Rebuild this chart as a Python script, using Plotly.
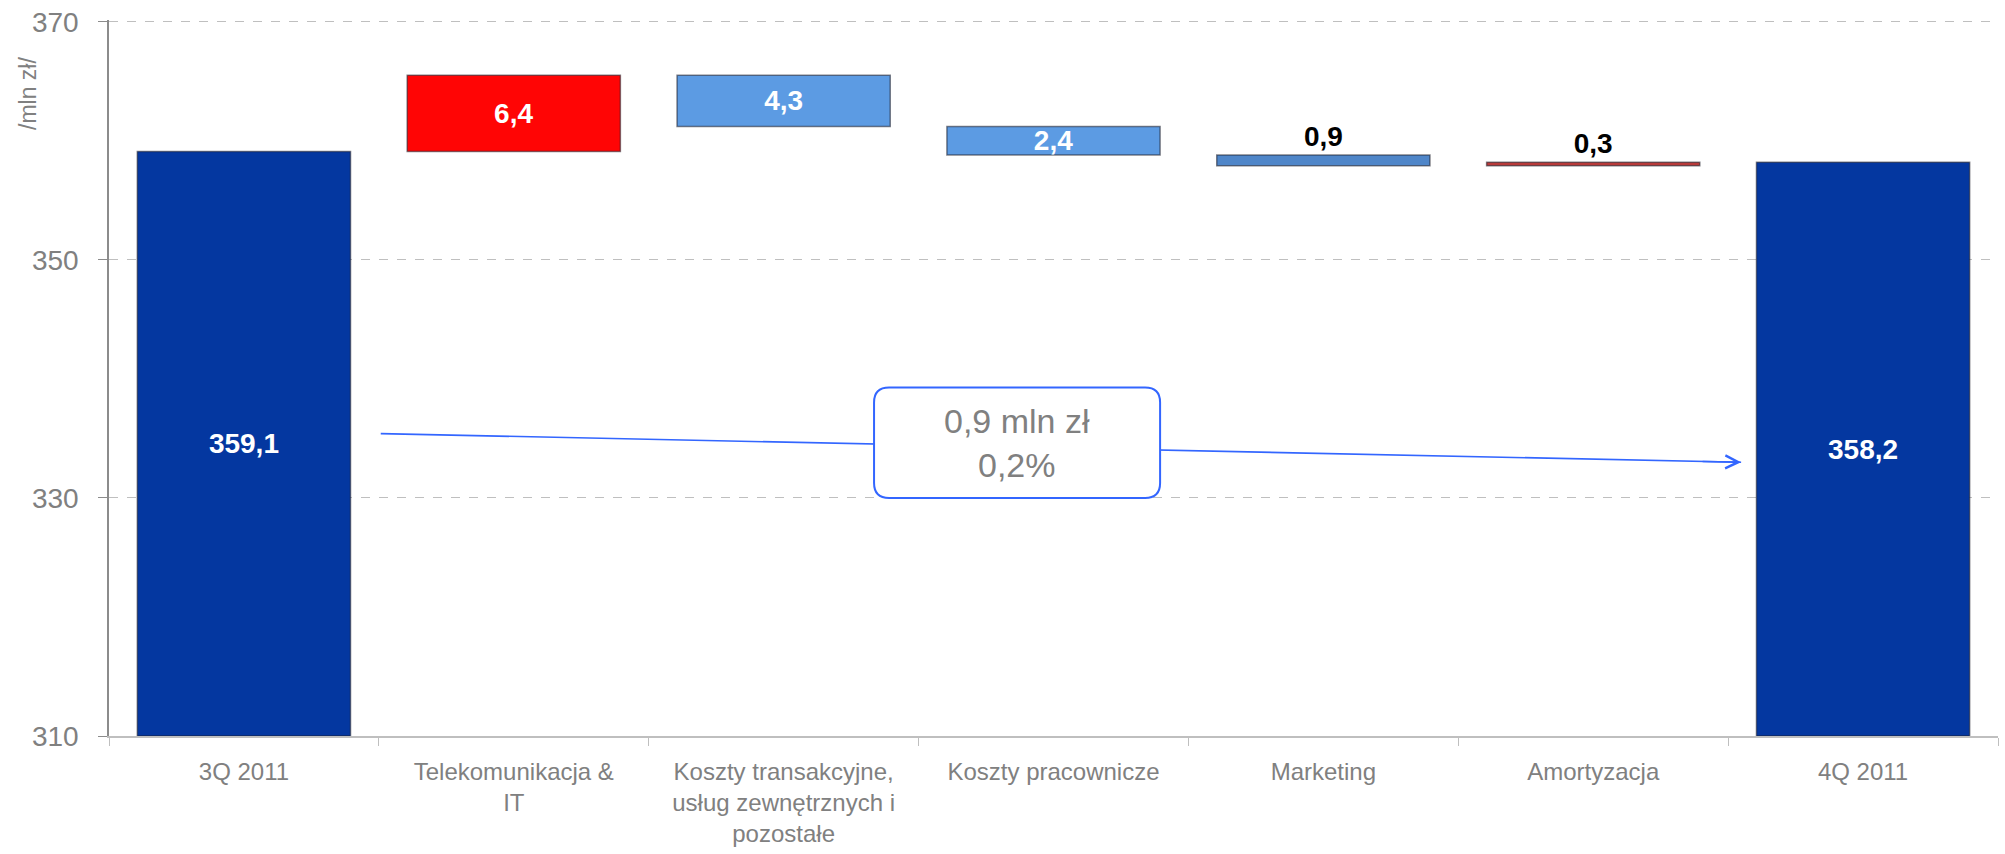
import plotly.graph_objects as go

categories = ["3Q 2011", "Telekomunikacja &<br>IT", "Koszty transakcyjne,<br>usług zewnętrznych i<br>pozostałe",
              "Koszty pracownicze", "Marketing", "Amortyzacja", "4Q 2011"]
start_value = 359.1
changes = [6.4, -4.3, -2.4, -0.9, 0.3]
end_value = 358.2
bar_colors = ["#0437A0", "#FF0505", "#5C9BE3", "#5C9BE3", "#4F86C9", "#B83A3A", "#0437A0"]
text_colors = ["white", "white", "white", "white", "black", "black", "white"]
text_pos = ["inside", "inside", "inside", "inside", "outside", "outside", "inside"]
y_ticks = [310, 330, 350, 370]
y_min, y_max = 310, 370

# build bases/heights from data (totals start at the axis floor)
bases, heights, labels = [y_min], [start_value - y_min], [f"{start_value:.1f}".replace(".", ",")]
level = start_value
for d in changes:
    new = level + d
    bases.append(min(level, new))
    heights.append(abs(d))
    labels.append(f"{abs(d):.1f}".replace(".", ","))
    level = new
bases.append(y_min)
heights.append(end_value - y_min)
labels.append(f"{end_value:.1f}".replace(".", ","))

fig = go.Figure()
fig.add_trace(go.Bar(
    x=categories, y=heights, base=bases, width=0.79,
    marker=dict(color=bar_colors, line=dict(color="rgba(30,30,40,0.55)", width=1.5)),
    text=labels, textposition=text_pos, insidetextanchor="middle",
    constraintext="none", cliponaxis=False,
    textfont=dict(family="Liberation Sans, Arial, sans-serif", size=28, color=text_colors, weight="bold"),
    hoverinfo="skip", showlegend=False,
))

# geometry helpers (pixel -> data) for annotation box
px_per_cat = 1889 / 7
px_per_unit = 719.5 / 60
bx0, bx1 = 2.335, 3.395
by0, by1 = 330.0, 339.27
rx, ry = 15 / px_per_cat, 15 / px_per_unit
path = (f"M {bx0+rx},{by1} L {bx1-rx},{by1} Q {bx1},{by1} {bx1},{by1-ry} "
        f"L {bx1},{by0+ry} Q {bx1},{by0} {bx1-rx},{by0} L {bx0+rx},{by0} "
        f"Q {bx0},{by0} {bx0},{by0+ry} L {bx0},{by1-ry} Q {bx0},{by1} {bx0+rx},{by1} Z")

line_color = "#3366FF"
fig.add_shape(type="line", x0=0.507, y0=335.4, x1=5.548, y1=333.0, xref="x", yref="y",
              line=dict(color=line_color, width=1.6), layer="above")
fig.add_shape(type="path", path=path, xref="x", yref="y", fillcolor="white",
              line=dict(color=line_color, width=2), layer="above")
fig.add_annotation(x=(bx0 + bx1) / 2, y=(by0 + by1) / 2, xref="x", yref="y",
                   text="0,9 mln zł<br>0,2%", showarrow=False,
                   font=dict(family="Liberation Sans, Arial, sans-serif", size=34, color="#808080"))
fig.add_annotation(x=5.548, y=333.0, xref="x", yref="y", ax=-40, ay=-0.8, text="",
                   showarrow=True, arrowhead=5, arrowsize=1.6, arrowwidth=1.6, arrowcolor=line_color,
                   standoff=0)
fig.add_annotation(x=-0.043, y=364, xref="paper", yref="y", text="/mln zł/", textangle=-90,
                   showarrow=False, xanchor="center", yanchor="middle",
                   font=dict(family="Liberation Sans, Arial, sans-serif", size=23, color="#808080"))

fig.update_layout(
    width=2005, height=854,
    margin=dict(l=109, r=7, t=17.7, b=115),
    plot_bgcolor="white", paper_bgcolor="white",
    font=dict(family="Liberation Sans, Arial, sans-serif", color="#808080"),
    bargap=0.21,
)
fig.update_xaxes(
    type="category", categoryorder="array", categoryarray=categories,
    showline=True, linecolor="#BFBFBF", linewidth=1.5,
    ticks="outside", tickson="boundaries", ticklen=8, tickcolor="#BFBFBF",
    showgrid=False, zeroline=False, ticklabelstandoff=13,
    tickfont=dict(family="Liberation Sans Narrow, Arial Narrow, Liberation Sans, Arial, sans-serif",
                  size=24, color="#808080"),
)
fig.update_yaxes(
    range=[y_min, y_max + 0.15], tickvals=y_ticks, showline=True, linecolor="#8C8C8C", linewidth=1.5,
    ticks="outside", ticklen=9, tickcolor="#8C8C8C", ticklabelstandoff=14,
    showgrid=True, gridcolor="#BFBFBF", griddash="dash", gridwidth=1, zeroline=False,
    tickfont=dict(family="Liberation Sans, Arial, sans-serif", size=28, color="#808080"),
)

fig.write_html("out.html", config={"displayModeBar": False},
               post_script="document.body.style.margin='0';document.body.style.overflow='hidden';")
